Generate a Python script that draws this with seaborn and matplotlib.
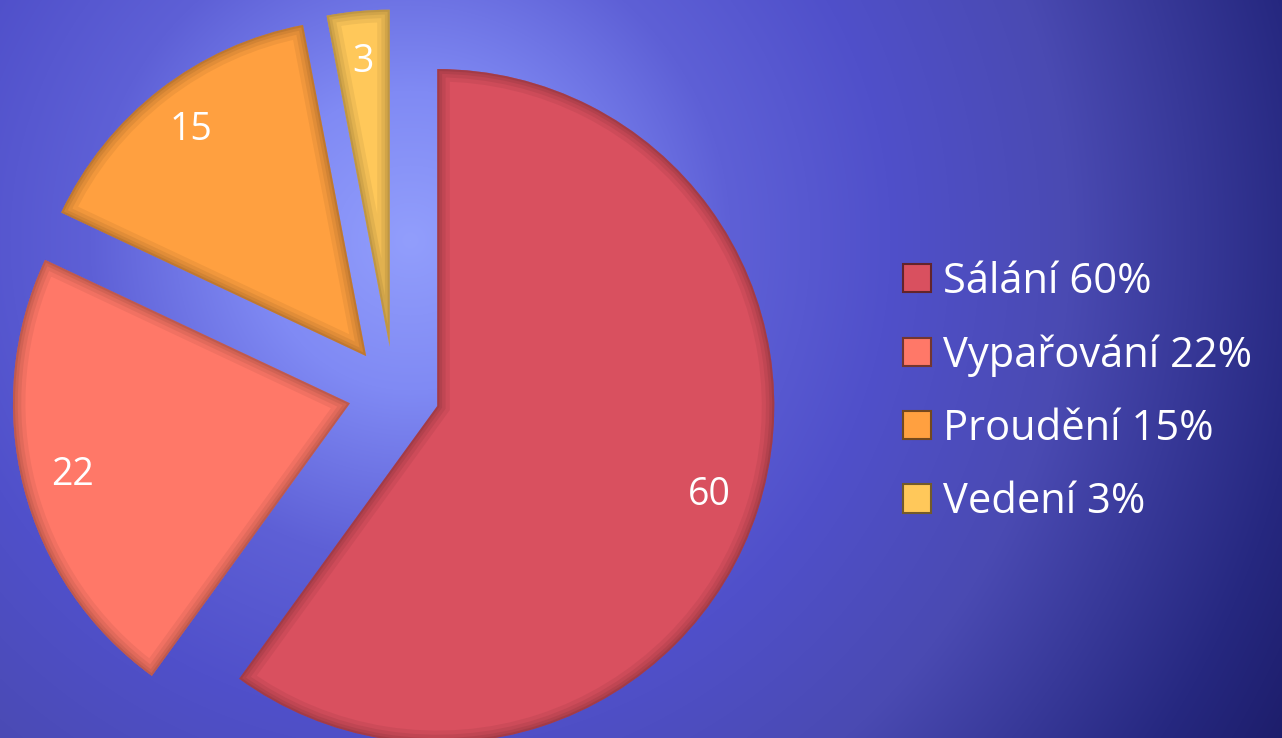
import numpy as np
import matplotlib
matplotlib.use('Agg')
import matplotlib.pyplot as plt
import seaborn as sns
from matplotlib.patches import PathPatch, Patch

# ---- data ----
categories = ['Sálání', 'Vypařování', 'Proudění', 'Vedení']
values = [60, 22, 15, 3]
legend_labels = [f'{c} {v}%' for c, v in zip(categories, values)]

sns.set_style('white')
plt.rcParams['font.family'] = ['Open Sans', 'DejaVu Sans']

colors = sns.color_palette(['#d9505f', '#ff7868', '#ffa040', '#ffc85a'])

W, H = 1282, 738
fig = plt.figure(figsize=(W / 100, H / 100), dpi=100)
ax = fig.add_axes([0, 0, 1, 1])
R = 337.0
cx, cy = 394.0, 392.0
xlim = (-cx / R, (W - cx) / R)
ylim = (-(H - cy) / R, cy / R)

# ---- background gradient (decoration) ----
yy, xx = np.mgrid[0:H, 0:W]
d = np.hypot(xx - 410, yy - 240)
stops = [0, 150, 320, 480, 660, 900, 1020]
r = np.interp(d, stops, [146, 128, 94, 80, 74, 38, 28])
g = np.interp(d, stops, [158, 138, 96, 80, 74, 40, 28])
b = np.interp(d, stops, [252, 244, 214, 202, 178, 128, 104])
img = np.dstack([r, g, b]) / 255.0
ax.imshow(img, extent=(xlim[0], xlim[1], ylim[0], ylim[1]), origin='upper',
          zorder=0, aspect='auto', interpolation='bilinear')

# ---- pie ----
wedges, texts, autotexts = ax.pie(
    values, colors=colors, startangle=90, counterclock=False,
    explode=[0.135] * len(values), radius=1, autopct='%.0f', pctdistance=0.85,
    textprops=dict(color='white', fontsize=27),
    wedgeprops=dict(linewidth=0))
for w in wedges:
    w.set_zorder(2)
for t in autotexts:
    t.set_zorder(5)

# bevel-like inner shading
for w, c in zip(wedges, colors):
    dark = tuple(np.array(c) * 0.55)
    for lw, a in [(18, 0.12), (12, 0.15), (7, 0.18), (3, 0.25)]:
        pp = PathPatch(w.get_path(), transform=w.get_transform(), fill=False,
                       edgecolor=dark, linewidth=lw, alpha=a, zorder=3,
                       joinstyle='miter')
        ax.add_patch(pp)
        pp.set_clip_path(w)

ax.set_xlim(xlim)
ax.set_ylim(ylim)
ax.set_aspect('auto')
ax.axis('off')

# ---- legend ----
handles = [Patch(facecolor=c, edgecolor=tuple(np.array(c) * 0.45), linewidth=1.5)
           for c in colors]
leg = fig.legend(handles, legend_labels, loc='center left',
                 bbox_to_anchor=(903 / W, 1 - 392 / H), bbox_transform=fig.transFigure,
                 frameon=False, prop=dict(size=30), labelcolor='white',
                 handlelength=0.66, handleheight=0.66, handletextpad=0.3,
                 labelspacing=0.75, borderaxespad=0, borderpad=0)

fig.savefig('out.png', dpi=100)
